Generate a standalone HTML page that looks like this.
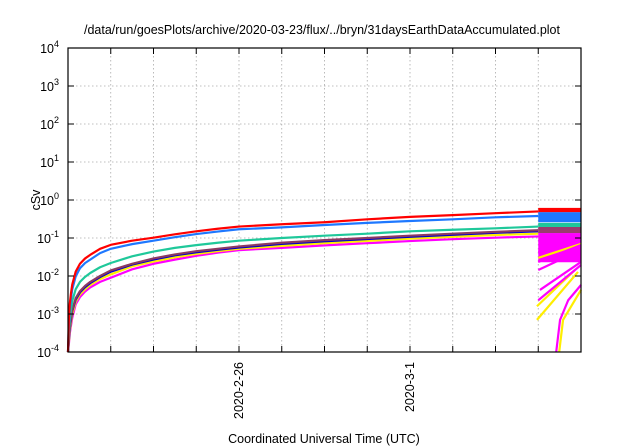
<!DOCTYPE html>
<html><head><meta charset="utf-8"><style>
body{margin:0;background:#fff;}
svg{display:block;font-family:"Liberation Sans",sans-serif;}
</style></head><body>
<svg id="chart" width="640" height="448" viewBox="0 0 640 448" xmlns="http://www.w3.org/2000/svg">
<rect width="640" height="448" fill="#fff"/>
<text x="322" y="34" text-anchor="middle" font-size="12.5" fill="#000">/data/run/goesPlots/archive/2020-03-23/flux/../bryn/31daysEarthDataAccumulated.plot</text>
<text transform="translate(40,200) rotate(-90)" text-anchor="middle" font-size="12.5" fill="#000">cSv</text>
<text x="324" y="443" text-anchor="middle" font-size="12.5" fill="#000">Coordinated Universal Time (UTC)</text>
<g id="grid"></g><g id="series"></g><g id="axes"></g>
</svg>
<script>
const days=[0,0.02,0.04,0.07,0.1,0.18,0.28,0.4,0.52,0.75,1,1.5,2,2.5,3,3.5,4,5,6,7,8,9,10,11];
const red=[1e-4,0.0007,0.0018,0.0035,0.006,0.013,0.021,0.029,0.036,0.052,0.066,0.085,0.102,0.125,0.15,0.175,0.2,0.23,0.26,0.31,0.36,0.4,0.45,0.5];
const blue=[1e-4,0.0005,0.0013,0.0026,0.0045,0.0098,0.016,0.022,0.027,0.04,0.052,0.069,0.085,0.105,0.127,0.148,0.17,0.19,0.22,0.25,0.28,0.31,0.35,0.38];
const green=[1e-4,0.0003,0.0007,0.0013,0.0022,0.0045,0.007,0.0095,0.012,0.017,0.022,0.033,0.044,0.055,0.065,0.075,0.085,0.1,0.115,0.13,0.15,0.165,0.18,0.2];
const maroon=[1e-4,0.0002,0.0004,0.0008,0.0013,0.0026,0.004,0.0055,0.007,0.01,0.014,0.021,0.029,0.037,0.045,0.052,0.06,0.075,0.088,0.1,0.115,0.13,0.145,0.16];
const darkblue=[1e-4,0.0002,0.0004,0.0007,0.0012,0.0024,0.0037,0.0051,0.0065,0.0094,0.013,0.02,0.027,0.035,0.042,0.049,0.056,0.07,0.082,0.094,0.108,0.122,0.137,0.15];
const yellow=[1e-4,0.00018,0.00035,0.0006,0.001,0.0021,0.0033,0.0045,0.0058,0.0083,0.011,0.018,0.024,0.031,0.038,0.045,0.052,0.062,0.073,0.084,0.096,0.108,0.12,0.13];
const magenta=[1e-4,0.00016,0.0003,0.0005,0.0008,0.0018,0.0028,0.0039,0.005,0.007,0.009,0.015,0.021,0.027,0.034,0.041,0.048,0.055,0.064,0.073,0.083,0.093,0.102,0.11];
// right-side band ranges [lowValue, highValue] from day 11 to day 12
const bandStart=11, bandEnd=12;
const bandRed=[0.48,0.62], bandBlue=[0.26,0.48], bandGreen=[0.195,0.25], bandMaroon=[0.135,0.195], bandMagenta=[0.023,0.135];
// reset segments: [day1,val1,day2,val2]
const fanMagenta=[[11,0.043,12,0.0886],[11,0.0234,12,0.0655],[11,0.0144,12,0.0484],[11.04,0.0043,12,0.0234],[11,0.0023,12,0.0195]];
const fanYellow=[[10.97,0.0016,11.86,0.0144],[10.97,0.0007,11.93,0.0128],[11,0.03,12,0.07]];
const resetMagDays=[11.42,11.51,11.7,12], resetMagVals=[1e-4,0.0007,0.0023,0.0058];
const resetYelDays=[11.49,11.58,12], resetYelVals=[1e-4,0.0007,0.0043];
const yTickExps=[-4,-3,-2,-1,0,1,2,3,4];
const xLabelDays=[4,8], xLabels=["2020-2-26","2020-3-1"];

const L=68,R=581,T=48,B=352,NS="http://www.w3.org/2000/svg";
const xs=d=>L+(R-L)*d/12;
const ys=v=>B-(B-T)*(Math.log10(v)+4)/8;
function mk(tag,attrs,parent){const e=document.createElementNS(NS,tag);for(const k in attrs)e.setAttribute(k,attrs[k]);parent.appendChild(e);return e;}
const grid=document.getElementById('grid'),ser=document.getElementById('series'),ax=document.getElementById('axes');
for(let d=1;d<12;d++){
  const l=mk('line',{x1:xs(d),x2:xs(d),y1:T,y2:B,stroke:'#aaa','stroke-width':0.8,'stroke-dasharray':'1.5,2.5'},grid);
  
  
  const t1=mk('line',{x1:xs(d),x2:xs(d),y1:B,y2:B-6,stroke:'#000'},ax);
  
  
  const t2=mk('line',{x1:xs(d),x2:xs(d),y1:T,y2:T+6,stroke:'#000'},ax);
  
  
}
yTickExps.forEach(e=>{
  const y=ys(Math.pow(10,e));
  if(e>-4&&e<4){const g=mk('line',{x1:L,x2:R,y1:y,y2:y,stroke:'#aaa','stroke-width':0.8,'stroke-dasharray':'1.5,2.5'},grid);
  
  }
  const t=mk('line',{x1:L,x2:L+6,y1:y,y2:y,stroke:'#000'},ax);
  
  
  const t2=mk('line',{x1:R,x2:R-6,y1:y,y2:y,stroke:'#000'},ax);
  
  
  const tx=mk('text',{x:L-9,y:y+5,'text-anchor':'end','font-size':'12.5',fill:'#000'},ax);
  
  
  tx.innerHTML='10<tspan dy="-6" font-size="9">'+e+'</tspan>';
});
xLabelDays.forEach((d,i)=>{
  const tx=mk('text',{transform:'translate('+(xs(d)+4)+','+(B+10)+') rotate(-90)','text-anchor':'end','font-size':'12.5',fill:'#000'},ax);
  
  
  tx.textContent=xLabels[i];
});
function band(rng,color,name){
  const r=mk('rect',{x:xs(bandStart),width:xs(bandEnd)-xs(bandStart),y:ys(rng[1]),height:ys(rng[0])-ys(rng[1]),fill:color},ser);
  
  
}
function line(ds,vs,color,name,w){
  const p=mk('polyline',{points:ds.map((d,i)=>xs(d)+','+ys(vs[i])).join(' '),fill:'none',stroke:color,'stroke-width':w||2.2,'stroke-linejoin':'round'},ser);
  
  
}
line(days,magenta,'#ff00ff','series-magenta');
line(days,yellow,'#ffee00','series-yellow');
line(days,darkblue,'#0000cc','series-darkblue');
line(days,maroon,'#8b3a62','series-maroon');
line(days,green,'#1fc89a','series-green');
line(days,blue,'#1e78ff','series-blue');
line(days,red,'#ff0000','series-red');
band(bandMagenta,'#ff00ff','band-magenta');
band(bandMaroon,'#9a3c6e','band-maroon');
band(bandGreen,'#1fc89a','band-green');
band(bandBlue,'#1e78ff','band-blue');
band(bandRed,'#ff0000','band-red');
fanYellow.forEach(s=>line([s[0],s[2]],[s[1],s[3]],'#ffee00','fan-yellow'));
fanMagenta.forEach(s=>line([s[0],s[2]],[s[1],s[3]],'#ff00ff','fan-magenta'));
line(resetYelDays,resetYelVals,'#ffee00','reset-yellow');
line(resetMagDays,resetMagVals,'#ff00ff','reset-magenta');
const fr=mk('rect',{x:L,y:T,width:R-L,height:B-T,fill:'none',stroke:'#000','stroke-width':1.2},ax);


</script>
</body></html>
